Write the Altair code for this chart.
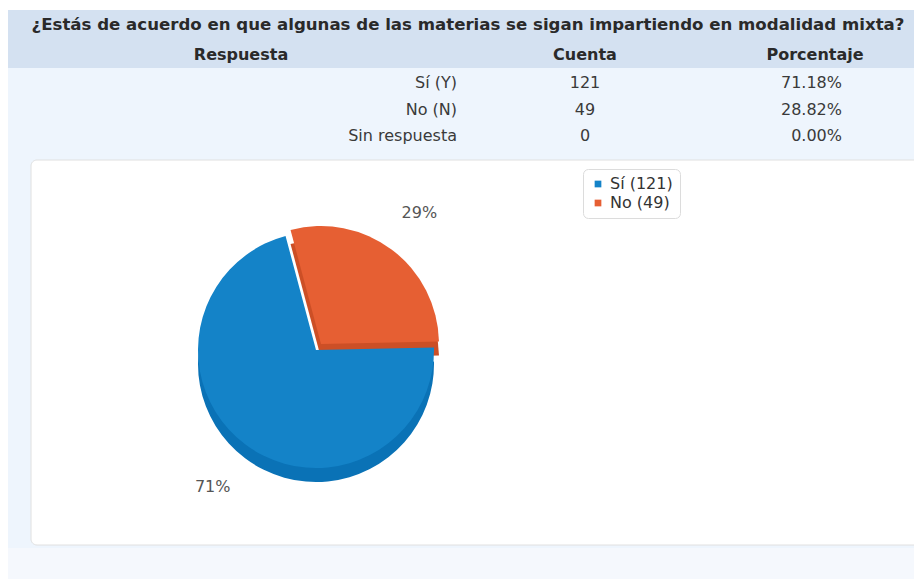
import math
import altair as alt
import pandas as pd

# ---------------- data ----------------
titulo = "¿Estás de acuerdo en que algunas de las materias se sigan impartiendo en modalidad mixta?"
columnas = ["Respuesta", "Cuenta", "Porcentaje"]
respuestas = ["Sí (Y)", "No (N)", "Sin respuesta"]
cuentas = [121, 49, 0]
porcentajes = ["71.18%", "28.82%", "0.00%"]

serie = ["Sí", "No"]
serie_cuenta = [121, 49]
serie_pct = ["71%", "29%"]

# ---------------- styles ----------------
FONT = "DejaVu Sans"
colores = ["#1483c8", "#e65f33"]
colores_lado = ["#0a72b6", "#cc4f26"]
CX, CY, R, DEPTH = 316, 350, 118, 14
ROT = 1.55  # rotation of the pie (radians)

total = sum(serie_cuenta)
t0, t1, acc = [], [], 0
for c in serie_cuenta:
    t0.append(acc)
    acc += c
    t1.append(acc)
pie_df = pd.DataFrame({
    "serie": serie,
    "etiqueta": [f"{s} ({c})" for s, c in zip(serie, serie_cuenta)],
    "cuenta": serie_cuenta,
    "t0": t0,
    "t1": t1,
    "mid": [(a + b) / 2 for a, b in zip(t0, t1)],
    "pct": serie_pct,
})
etiquetas = list(pie_df["etiqueta"])
tabla = pd.DataFrame({"respuesta": respuestas, "cuenta": cuentas, "porcentaje": porcentajes})
dummy = pd.DataFrame({"d": [0]})

theta_scale = alt.Scale(domain=[0, total], range=[ROT, ROT + 2 * math.pi])


def rect(x, x2, y, y2, **kw):
    return alt.Chart(dummy).mark_rect(**kw).encode(
        x=alt.value(x), x2=alt.value(x2), y=alt.value(y), y2=alt.value(y2)
    )


bg_header = rect(8, 914, 10, 68, color="#d4e1f1")
bg_body = rect(8, 914, 68, 548, color="#eef5fd")
bg_bottom = rect(8, 914, 548, 579, color="#f5f8fd")
panel = rect(31, 930, 160, 545, fill="white", stroke="#e0e0e0", strokeWidth=1, cornerRadius=6)

title = alt.Chart(pd.DataFrame({"t": [titulo]})).mark_text(
    font=FONT, fontSize=16.6, fontWeight="bold", color="#2a2a2a", align="center", baseline="alphabetic"
).encode(text="t:N", x=alt.value(468), y=alt.value(30))

hdr_df = pd.DataFrame({"col": columnas})
hdr_x = [241, 585, 815]
headers = [
    alt.Chart(hdr_df).transform_filter(alt.datum.col == c).mark_text(
        font=FONT, fontSize=16, fontWeight="bold", color="#2a2a2a", align="center", baseline="alphabetic"
    ).encode(text="col:N", x=alt.value(xp), y=alt.value(60))
    for c, xp in zip(columnas, hdr_x)
]

y_rows = alt.Y("respuesta:N", scale=alt.Scale(type="point", domain=respuestas, range=[88, 141], padding=0),
               axis=None, sort=None)
txt_kw = dict(font=FONT, fontSize=16, color="#3a3a3a", baseline="alphabetic")
col_resp = alt.Chart(tabla).mark_text(align="right", **txt_kw).encode(
    text="respuesta:N", y=y_rows, x=alt.value(457))
col_cuenta = alt.Chart(tabla).mark_text(align="center", **txt_kw).encode(
    text=alt.Text("cuenta:Q", format="d"), y=y_rows, x=alt.value(585))
col_pct = alt.Chart(tabla).mark_text(align="right", **txt_kw).encode(
    text="porcentaje:N", y=y_rows, x=alt.value(842))

EXPLODE = {"Sí": (0, 0), "No": (5, -6)}


def arc_layer(name, dy, color=None):
    dx, ddy = EXPLODE[name]
    kw = dict(outerRadius=R, xOffset=dx, yOffset=ddy)
    if color is not None:
        kw["color"] = color
    enc = dict(
        theta=alt.Theta("t0:Q", scale=theta_scale, stack=False),
        theta2="t1:Q",
        x=alt.value(CX),
        y=alt.value(CY + dy),
    )
    if color is None:
        enc["color"] = alt.Color(
            "etiqueta:N",
            scale=alt.Scale(domain=etiquetas, range=colores),
            legend=alt.Legend(
                title=None, orient="none", legendX=583, legendY=169,
                fillColor="white", strokeColor="#dcdcdc", cornerRadius=5, padding=7,
                symbolType="square", symbolSize=45, symbolStrokeWidth=0,
                labelFont=FONT, labelFontSize=16, labelColor="#333333", rowPadding=3,
            ),
        )
    return alt.Chart(pie_df).transform_filter(alt.datum.serie == name).mark_arc(**kw).encode(**enc)


side_si = arc_layer("Sí", DEPTH, color=colores_lado[0])
side_no = arc_layer("No", DEPTH, color=colores_lado[1])
top_si = arc_layer("Sí", 0)
top_no = arc_layer("No", 0)

labels = alt.Chart(pie_df).mark_text(
    radius=172, font=FONT, fontSize=16, color="#555555"
).encode(
    theta=alt.Theta("mid:Q", scale=theta_scale, stack=False),
    text="pct:N",
    x=alt.value(CX),
    y=alt.value(CY),
)

chart = alt.layer(
    bg_header, bg_body, bg_bottom, panel, title, *headers,
    col_resp, col_cuenta, col_pct,
    side_si, side_no, top_si, top_no, labels,
).properties(
    width=914, height=579, autosize="none", padding=0, background="white"
).configure_view(strokeWidth=0)

chart.save("out.html", embed_options={"renderer": "svg", "actions": False})
